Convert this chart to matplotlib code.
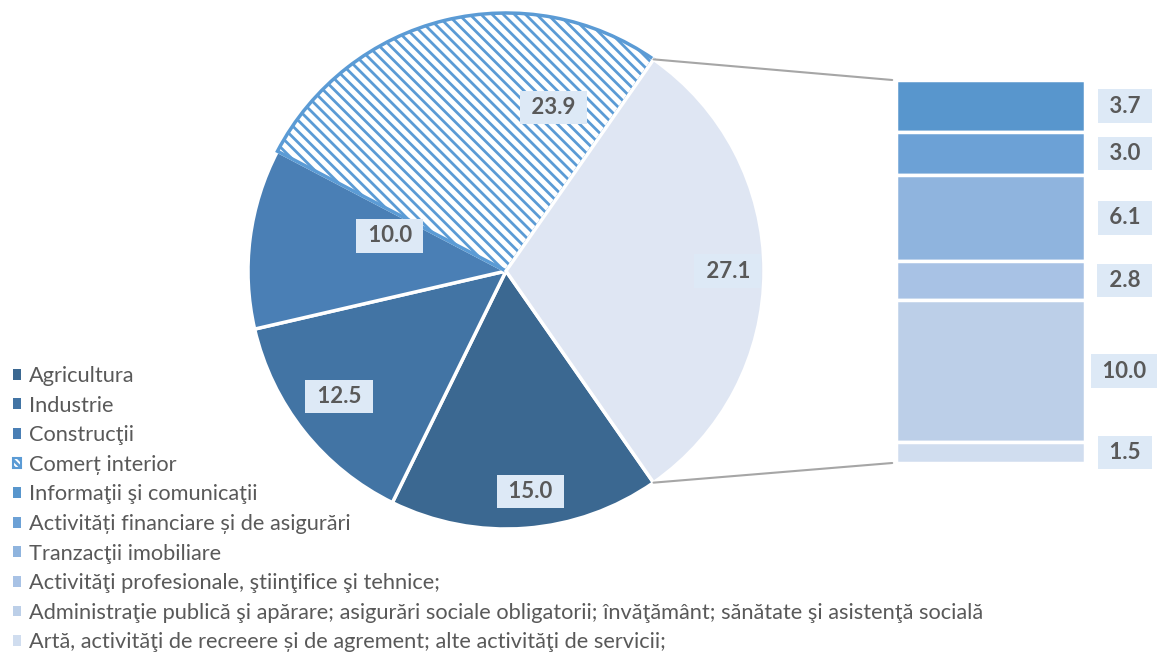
import numpy as np
import matplotlib
matplotlib.use("Agg")
import matplotlib.pyplot as plt
from matplotlib.patches import Patch, ConnectionPatch

plt.rcParams['font.family'] = ['Lato', 'DejaVu Sans']
plt.rcParams['hatch.linewidth'] = 2.0

# pie part
pie_labels = ["Agricultura", "Industrie", "Construcţii", "Comerț interior"]
pie_values = [15.0, 12.5, 10.0, 23.9]
pie_colors = ["#3b6891", "#4274a4", "#4a7fb5", "#5b9bd5"]
other_color = "#dfe6f3"

# bar part (the split-off slice), top to bottom
bar_labels = ["Informaţii şi comunicaţii",
              "Activități financiare și de asigurări",
              "Tranzacţii imobiliare",
              "Activităţi profesionale, ştiinţifice şi tehnice;",
              "Administraţie publică şi apărare; asigurări sociale obligatorii; învăţământ; sănătate şi asistenţă socială",
              "Artă, activităţi de recreere și de agrement; alte activităţi de servicii;"]
bar_values = [3.7, 3.0, 6.1, 2.8, 10.0, 1.5]
bar_colors = ["#5896cd", "#6ca1d6", "#8fb4de", "#a8c2e5", "#bccfe8", "#d0ddef"]

txt_color = "#595959"
box_color = "#dde9f6"
hatch_color = "#5b9bd5"

W, H = 1157, 657
fig = plt.figure(figsize=(W / 100, H / 100), dpi=100)
ax = fig.add_axes([0, 0, 1, 1])

other = sum(bar_values)
vals = pie_values + [other]
total = sum(vals)
start = -other / total * 180
cx, cy, r = 506, H - 271, 258

wedges, _ = ax.pie(vals, colors=pie_colors + [other_color], startangle=start,
                   counterclock=False, center=(cx, cy), radius=r, frame=True,
                   wedgeprops=dict(edgecolor="white", linewidth=2.5))
wedges[3].set_facecolor("white")
wedges[3].set_edgecolor(hatch_color)
wedges[3].set_hatch("\\\\\\")
wedges[3].set_linewidth(2.5)
ax.set_xlim(0, W)
ax.set_ylim(0, H)
ax.axis("off")

lbl_style = dict(fontsize=16, fontweight="bold", color=txt_color, ha="center", va="center",
                 bbox=dict(boxstyle="square,pad=0.28", fc=box_color, ec="none"))

# label placement: (fraction of radius, angle shift in degrees)
lbl_pos = [(0.86, 2), (0.81, -1.5), (0.47, -9.5), (0.66, -30), (0.86, 0)]
for w, v, (f, da) in zip(wedges, vals, lbl_pos):
    a = np.deg2rad((w.theta1 + w.theta2) / 2 + da)
    ax.text(cx + f * r * np.cos(a), cy + f * r * np.sin(a), f" {v:.1f} ", **lbl_style)

# stacked bar
bax = fig.add_axes([896 / W, (H - 463) / H, 189 / W, 383 / H])
bottoms = np.concatenate([[0], np.cumsum(bar_values)[:-1]])
bax.bar(0, bar_values, bottom=bottoms, width=1, color=bar_colors,
        edgecolor="white", linewidth=2.5)
bax.set_xlim(-0.5, 0.5)
bax.set_ylim(other, 0)
bax.axis("off")
for b, v in zip(bottoms, bar_values):
    bax.text(1.21, b + v / 2, f" {v:.1f} ", transform=bax.get_yaxis_transform(),
             clip_on=False, **lbl_style)

# connector lines
w = wedges[4]
for th, yb in [(w.theta2, 1.0), (w.theta1, 0.0)]:
    a = np.deg2rad(th)
    con = ConnectionPatch(xyA=(cx + r * np.cos(a), cy + r * np.sin(a)), coordsA=ax.transData,
                          xyB=(-0.02, yb), coordsB=bax.transAxes,
                          color="#a6a6a6", lw=1.5)
    fig.add_artist(con)

# legend
handles = [Patch(facecolor=c) for c in pie_colors[:3]]
handles.append(Patch(facecolor="white", edgecolor=hatch_color, hatch="\\\\\\\\\\", lw=1.5))
handles += [Patch(facecolor=c) for c in bar_colors]
leg = ax.legend(handles, pie_labels + bar_labels, loc="upper left",
                bbox_to_anchor=(13 / W, (H - 366) / H), bbox_transform=fig.transFigure,
                frameon=False, fontsize=15.7, labelspacing=0.44, borderpad=0,
                borderaxespad=0, handlelength=0.38, handleheight=0.38,
                handletextpad=0.37, labelcolor=txt_color)

fig.savefig("out.png", dpi=100)
